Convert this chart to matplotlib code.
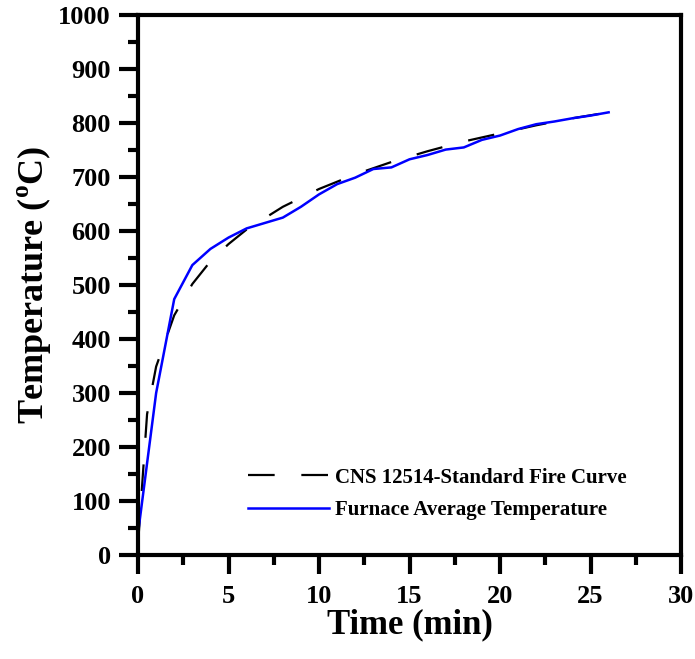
import matplotlib
matplotlib.use("Agg")
import matplotlib.pyplot as plt
from matplotlib.ticker import MultipleLocator

plt.rcParams['font.family'] = 'Liberation Serif'
plt.rcParams['font.weight'] = 'bold'
plt.rcParams['mathtext.fontset'] = 'custom'
plt.rcParams['mathtext.rm'] = 'Liberation Serif:bold'
plt.rcParams['mathtext.bf'] = 'Liberation Serif:bold'

# CNS 12514 standard fire curve
std_time = [0, 0.5, 1, 2, 3, 4, 5, 6, 8, 10, 12, 14, 16, 18, 20, 22, 24, 26]
std_temp = [20, 261, 349, 444, 502, 544, 576, 603, 645, 678, 705, 728, 748, 766, 781, 796, 809, 820]

# furnace average temperature
fur_time = [0, 1, 2, 3, 4, 5, 6, 7, 8, 9, 10, 11, 12, 13, 14, 15, 16, 17, 18, 19, 20, 21, 22, 23, 24, 25, 26]
fur_temp = [40, 300, 474, 537, 567, 588, 605, 615, 625, 645, 668, 687, 699, 715, 718, 733, 741, 751, 755,
            769, 777, 789, 798, 803, 809, 814, 820]

fig = plt.figure(figsize=(6.95, 6.59), dpi=100)
ax = fig.add_axes([0.1986, 0.1578, 0.7813, 0.8192])

ax.plot(std_time, std_temp, color='black', lw=1.6, dashes=(12, 12),
        label='CNS 12514-Standard Fire Curve')
ax.plot(fur_time, fur_temp, color='#0000ff', lw=1.8,
        label='Furnace Average Temperature')

ax.set_xlim(0, 30)
ax.set_ylim(0, 1000)
ax.xaxis.set_major_locator(MultipleLocator(5))
ax.xaxis.set_minor_locator(MultipleLocator(2.5))
ax.yaxis.set_major_locator(MultipleLocator(100))
ax.yaxis.set_minor_locator(MultipleLocator(50))

for s in ax.spines.values():
    s.set_linewidth(3)
ax.tick_params(which='major', direction='out', length=13.5, width=3, labelsize=19, pad=6)
ax.tick_params(axis='x', which='major', pad=8)
ax.tick_params(which='minor', direction='out', length=7.5, width=3)
ax.tick_params(top=False, right=False, which='both')

ax.set_xlabel('Time (min)', fontsize=25, fontweight='bold', labelpad=0)
ax.set_ylabel(r'Temperature ($^\mathregular{o}$C)', fontsize=26, fontweight='bold', labelpad=4)

leg = ax.legend(loc='lower right', bbox_to_anchor=(0.935, 0.03), frameon=False,
                fontsize=15, handlelength=3.9, handletextpad=0.3, labelspacing=0.6)

fig.savefig('out.png', dpi=100)
